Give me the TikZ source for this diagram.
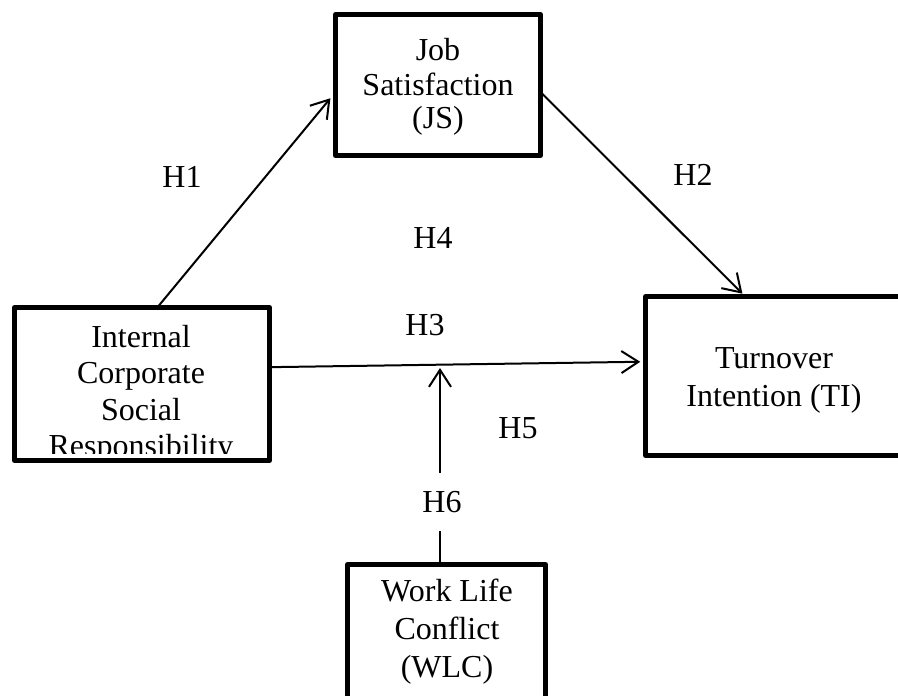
\documentclass[tikz,border=0pt]{standalone}
\usepackage{fontspec}
\setmainfont{Liberation Serif}
\usetikzlibrary{arrows.meta,calc}
\begin{document}
\begin{tikzpicture}[x=1pt,y=-1pt,
  box/.style={draw, line width=5pt, line join=round, inner sep=0pt, outer sep=0pt},
  txt/.style={font=\fontsize{32}{36}\selectfont, anchor=base, inner sep=0pt},
  hyp/.style={font=\fontsize{32}{36}\selectfont, inner sep=0pt},
  arr/.style={line width=2pt, -{Straight Barb[length=17pt,width=22pt]}}]
\clip (0,0) rectangle (898,696);
% boxes
\node[box, minimum width=205pt, minimum height=141pt] (js) at (438,85) {};
\node[box, minimum width=255pt, minimum height=153pt] (icsr) at (142,384) {};
\node[box, minimum width=257pt, minimum height=159pt] (ti) at (774.25,376) {};
\node[box, minimum width=198pt, minimum height=140pt] (wlc) at (446.5,634.5) {};
% box texts
\node[txt] (js1) at (438,60) {Job};
\node[txt] (js2) at (438,95) {Satisfaction};
\node[txt] (js3) at (438,128) {(JS)};
\begin{scope}
\clip (14,307) rectangle (270,453);
\node[txt] (icsr1) at (141,347) {Internal};
\node[txt] (icsr2) at (141,383) {Corporate};
\node[txt] (icsr3) at (141,420) {Social};
\node[txt] (icsr4) at (141,456) {Responsibility};
\end{scope}
\node[txt] (ti1) at (774,368) {Turnover};
\node[txt] (ti2) at (774,406) {Intention (TI)};
\node[txt] (wlc1) at (447,601) {Work Life};
\node[txt] (wlc2) at (447,639) {Conflict};
\node[txt] (wlc3) at (447,677) {(WLC)};
% connectors
\draw[arr, shorten >=8pt] ($(icsr.north west)!0.56!(icsr.north east)$) -- ($(js.north west)!0.55!(js.south west)$);
\draw[arr, shorten >=4pt] ($(js.north east)!0.55!(js.south east)$) -- ($(ti.north west)+(99.5,0)$);
\draw[arr, shorten >=5.5pt] ($(icsr.north east)!0.39!(icsr.south east)$) -- ($(ti.north west)!0.41!(ti.south west)$);
\coordinate (mod) at (440,368);
\draw[arr] ($(wlc.north)+(-6.5,0)$) -- (mod);
% hypothesis labels
\node[hyp] (h1) at (182,177) {H1};
\node[hyp] (h2) at (693,175) {H2};
\node[hyp] (h3) at (425,325) {H3};
\node[hyp] (h4) at (433,238) {H4};
\node[hyp] (h5) at (518,428) {H5};
\node[hyp, fill=white, minimum height=58pt, inner xsep=2pt] (h6) at (442,502) {H6};
\end{tikzpicture}
\end{document}
